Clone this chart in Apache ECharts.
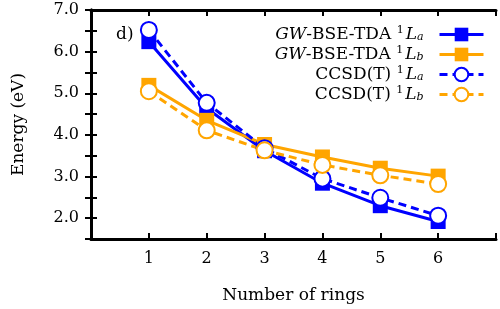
<!DOCTYPE html>
<html>
<head>
<meta charset="utf-8">
<script src="https://cdn.jsdelivr.net/npm/echarts@6/dist/echarts.min.js"></script>
<style>
html, body { margin: 0; padding: 0; background: #fff; }
#main { width: 500px; height: 309px; }
</style>
</head>
<body>
<div id="main"></div>
<script>
var rings = [1, 2, 3, 4, 5, 6];
var gwLa = [6.24, 4.64, 3.62, 2.84, 2.30, 1.92];
var gwLb = [5.19, 4.35, 3.77, 3.47, 3.20, 3.01];
var ccLa = [6.52, 4.77, 3.68, 2.95, 2.49, 2.06];
var ccLb = [5.05, 4.11, 3.63, 3.28, 3.03, 2.82];
var names = ['GW-BSE-TDA 1La', 'GW-BSE-TDA 1Lb', 'CCSD(T) 1La', 'CCSD(T) 1Lb'];

var serif = 'DejaVu Serif';
var blue = '#0000ff';
var orange = '#ffa500';

function pairs(ys) {
    return rings.map(function (x, i) { return [x, ys[i]]; });
}

var legendText = {
    'GW-BSE-TDA 1La': '{i|GW}-BSE-TDA {sup|1}{i|L}{sub|a}{gap|}',
    'GW-BSE-TDA 1Lb': '{i|GW}-BSE-TDA {sup|1}{i|L}{sub|b}{gap|}',
    'CCSD(T) 1La': 'CCSD(T) {sup|1}{i|L}{sub|a}{gap|}',
    'CCSD(T) 1Lb': 'CCSD(T) {sup|1}{i|L}{sub|b}{gap|}'
};

var dom = document.getElementById('main');
var myChart = echarts.init(dom);

var yAxisBase = {
    type: 'value',
    min: 1.5,
    max: 7,
    interval: 0.5,
    splitLine: { show: false },
    axisLine: { show: true, lineStyle: { color: '#000', width: 3 } },
    axisTick: { show: true, inside: true, length: 6, lineStyle: { color: '#000', width: 2 } }
};
var xAxisBase = {
    type: 'value',
    min: 0,
    max: 7,
    interval: 1,
    splitLine: { show: false },
    axisLine: { show: true, onZero: false, lineStyle: { color: '#000', width: 3 } },
    axisTick: { show: true, inside: true, length: 6, lineStyle: { color: '#000', width: 2 } }
};

option = {
    animation: false,
    backgroundColor: '#fff',
    grid: { left: 91, right: 4, top: 10, bottom: 64 },
    title: {
        text: 'd)',
        left: 111,
        top: 21,
        textStyle: { fontFamily: serif, fontSize: 17, fontWeight: 'normal', color: '#000' }
    },
    legend: {
        data: names,
        orient: 'vertical',
        align: 'right',
        right: 10,
        top: 20,
        itemWidth: 44,
        itemHeight: 17,
        itemGap: 2,
        lineStyle: { width: 3 },
        formatter: function (name) { return legendText[name]; },
        textStyle: {
            fontFamily: serif,
            fontSize: 17,
            color: '#000',
            rich: {
                i: { fontFamily: serif, fontSize: 17, fontStyle: 'italic', color: '#000' },
                sup: { fontFamily: serif, fontSize: 11, color: '#000', padding: [0, 2, 8, 0] },
                sub: { fontFamily: serif, fontSize: 11, fontStyle: 'italic', color: '#000', padding: [6, 0, 0, 0] },
                gap: { width: 11 }
            }
        }
    },
    xAxis: [
        echarts.util.merge({
            position: 'bottom',
            name: 'Number of rings',
            nameLocation: 'middle',
            nameGap: 48,
            nameTextStyle: { fontFamily: serif, fontSize: 17, color: '#000' },
            axisLabel: {
                margin: 12,
                fontFamily: serif,
                fontSize: 16,
                color: '#000',
                formatter: function (v) { return (v >= 1 && v <= 6) ? String(v) : ''; }
            }
        }, xAxisBase, true),
        echarts.util.merge({ position: 'top', axisLabel: { show: false } }, xAxisBase, true)
    ],
    yAxis: [
        echarts.util.merge({
            position: 'left',
            name: 'Energy (eV)',
            nameLocation: 'middle',
            nameGap: 64,
            nameTextStyle: { fontFamily: serif, fontSize: 17, color: '#000' },
            axisLabel: {
                margin: 12,
                fontFamily: serif,
                fontSize: 16,
                color: '#000',
                formatter: function (v) { return Math.abs(v % 1) < 1e-9 ? v.toFixed(1) : ''; }
            }
        }, yAxisBase, true),
        echarts.util.merge({ position: 'right', axisLabel: { show: false } }, yAxisBase, true)
    ],
    series: [{
        name: names[0],
        type: 'line',
        data: pairs(gwLa),
        symbol: 'rect',
        symbolSize: 15,
        itemStyle: { color: blue },
        lineStyle: { color: blue, width: 3 }
    }, {
        name: names[1],
        type: 'line',
        data: pairs(gwLb),
        symbol: 'rect',
        symbolSize: 15,
        itemStyle: { color: orange },
        lineStyle: { color: orange, width: 3 }
    }, {
        name: names[2],
        type: 'line',
        data: pairs(ccLa),
        symbol: 'emptyCircle',
        symbolSize: 16,
        itemStyle: { color: blue, borderColor: blue, borderWidth: 3 },
        lineStyle: { color: blue, width: 3, type: [8, 5] }
    }, {
        name: names[3],
        type: 'line',
        data: pairs(ccLb),
        symbol: 'emptyCircle',
        symbolSize: 16,
        itemStyle: { color: orange, borderColor: orange, borderWidth: 3 },
        lineStyle: { color: orange, width: 3, type: [8, 5] }
    }]
};
myChart.setOption(option);
window.onresize = myChart.resize;
</script>
</body>
</html>
